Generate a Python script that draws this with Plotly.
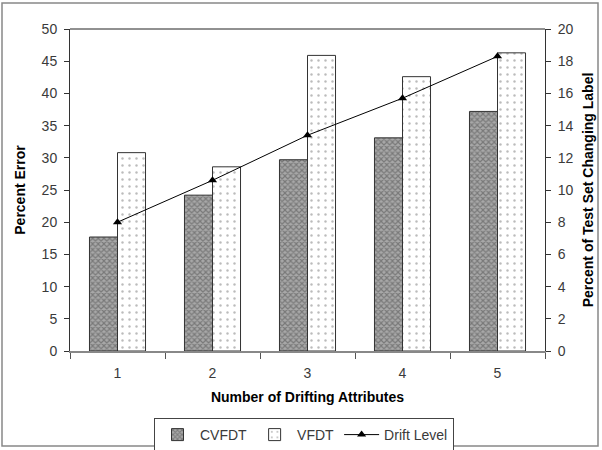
import plotly.graph_objects as go

categories = ["1", "2", "3", "4", "5"]
cvfdt = [17.7, 24.2, 29.7, 33.1, 37.2]
vfdt = [30.8, 28.6, 45.9, 42.6, 46.3]
drift = [8.0, 10.6, 13.4, 15.7, 18.3]

W, H = 602, 450
ml, mr, mt, mb = 70, 57, 29, 99
pw, ph = W - ml - mr, H - mt - mb

font = "Arial, Liberation Sans, sans-serif"
tickfont = dict(family=font, size=14, color="#3a3a3a")
titlefont = dict(family=font, size=14, color="black")

fig = go.Figure()
fig.add_trace(go.Bar(
    x=categories, y=cvfdt, name="CVFDT",
    marker=dict(color="#8a8a8a", line=dict(color="#333333", width=1),
                pattern=dict(shape="x", fgcolor="#4a4a4a", bgcolor="#a8a8a8", size=4, solidity=0.5)),
))
fig.add_trace(go.Bar(
    x=categories, y=vfdt, name="VFDT",
    marker=dict(color="white", line=dict(color="#333333", width=1),
                pattern=dict(shape=".", fgcolor="#777777", bgcolor="white", size=7, solidity=0.1)),
))
fig.add_trace(go.Scatter(
    x=categories, y=drift, name="Drift Level", yaxis="y2", mode="lines+markers",
    line=dict(color="black", width=1),
    marker=dict(symbol="triangle-up", size=8, color="black"),
))

# outer border around the whole figure
fig.add_shape(type="rect", xref="paper", yref="paper",
              x0=(2 - ml) / pw, x1=(598 - ml) / pw,
              y0=(H - mb - 446) / ph, y1=(H - mb - 3) / ph,
              line=dict(color="#888888", width=1.5), fillcolor="rgba(0,0,0,0)")

fig.update_layout(
    width=W, height=H,
    margin=dict(l=ml, r=mr, t=mt, b=mb, autoexpand=False),
    paper_bgcolor="white", plot_bgcolor="white",
    font=dict(family=font, size=12, color="black"),
    barmode="group", bargap=0.41, bargroupgap=0,
    showlegend=True,
    legend=dict(orientation="h", x=(304 - ml) / pw, xanchor="center",
                yref="container", y=(H - 418) / H, yanchor="top",
                bordercolor="#444444", borderwidth=1,
                font=dict(family=font, size=14, color="#3a3a3a"),
                itemwidth=35, tracegroupgap=0),
    xaxis=dict(
        title=dict(text="<b>Number of Drifting Attributes</b>", font=titlefont, standoff=12),
        type="category", tickson="boundaries", ticks="outside", ticklen=6,
        tickcolor="#555555", showline=True, linecolor="#888888", linewidth=2,
        tickfont=tickfont, ticklabelstandoff=8, automargin=False,
        mirror=False, showgrid=False, zeroline=False,
    ),
    yaxis=dict(
        title=dict(text="<b>Percent Error</b>", font=titlefont, standoff=12),
        range=[0, 50], dtick=5, ticks="outside", ticklen=5, tickcolor="#333333",
        tickfont=tickfont, ticklabelstandoff=4, automargin=False,
        showline=True, linecolor="#333333", linewidth=1, showgrid=False, zeroline=False,
    ),
    yaxis2=dict(
        title=dict(text="<b>Percent of Test Set Changing Label</b>", font=titlefont, standoff=10),
        range=[0, 20], dtick=2, overlaying="y", side="right", ticks="outside", ticklen=5,
        tickcolor="#333333", tickfont=tickfont, ticklabelstandoff=4, automargin=False,
        showline=True, linecolor="#333333", linewidth=1,
        showgrid=False, zeroline=False,
    ),
    yaxis3=dict(range=[0, 50], dtick=5, overlaying="y", side="left", ticks="inside", ticklen=4,
                tickcolor="#333333", showticklabels=False, showline=False, showgrid=False,
                zeroline=False, automargin=False),
    yaxis4=dict(range=[0, 20], dtick=2, overlaying="y", side="right", ticks="inside", ticklen=4,
                tickcolor="#333333", showticklabels=False, showline=False, showgrid=False,
                zeroline=False, automargin=False),
)
# top border of plot area
fig.add_shape(type="line", xref="paper", yref="paper", x0=0, x1=1, y0=1, y1=1,
              line=dict(color="#222222", width=1))

fig.write_html("out.html", config={"displayModeBar": False},
               post_script="document.body.style.margin='0';")
